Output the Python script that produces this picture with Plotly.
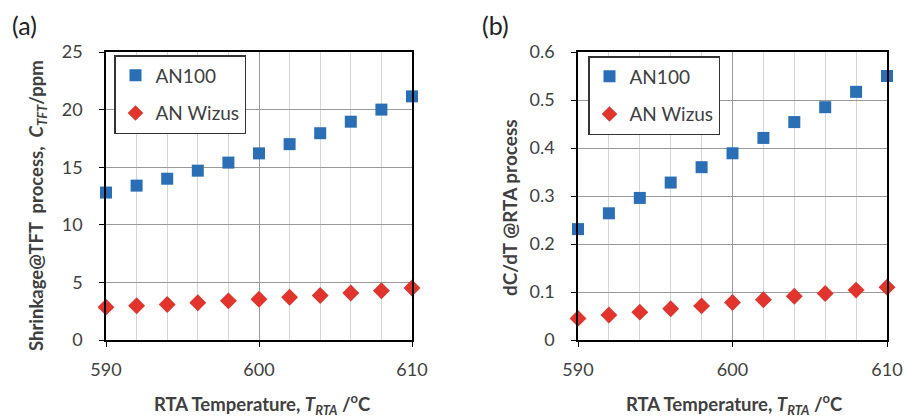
import plotly.graph_objects as go

temps = [590, 592, 594, 596, 598, 600, 602, 604, 606, 608, 610]
shrink_an100 = [12.8, 13.4, 14.0, 14.7, 15.4, 16.2, 17.0, 17.95, 18.95, 20.0, 21.15]
shrink_wizus = [2.85, 2.97, 3.08, 3.23, 3.4, 3.54, 3.71, 3.86, 4.08, 4.28, 4.51]
dcdt_an100 = [0.231, 0.264, 0.296, 0.328, 0.360, 0.389, 0.421, 0.454, 0.485, 0.517, 0.550]
dcdt_wizus = [0.045, 0.052, 0.058, 0.065, 0.071, 0.078, 0.084, 0.091, 0.097, 0.104, 0.110]
series_names = ["AN100", "AN Wizus"]
x_ticks = [590, 600, 610]
y1_ticks = [0, 5, 10, 15, 20, 25]
y2_ticks = [0, 0.1, 0.2, 0.3, 0.4, 0.5, 0.6]
y2_ticktext = ["0", "0.1", "0.2", "0.3", "0.4", "0.5", "0.6"]

BLUE = "#2A6EB5"
RED = "#E0342C"
FONT = "Lato, Open Sans, sans-serif"
TICKC = "#404040"

fig = go.Figure()
fig.add_trace(go.Scatter(x=temps, y=shrink_an100, mode="markers", name=series_names[0],
                         marker=dict(symbol="square", size=12, color=BLUE), cliponaxis=False,
                         xaxis="x", yaxis="y", legend="legend", legendgroup="a1"))
fig.add_trace(go.Scatter(x=temps, y=shrink_wizus, mode="markers", name=series_names[1],
                         marker=dict(symbol="diamond", size=13, color=RED), cliponaxis=False,
                         xaxis="x", yaxis="y", legend="legend", legendgroup="a2"))
fig.add_trace(go.Scatter(x=temps, y=dcdt_an100, mode="markers", name=series_names[0],
                         marker=dict(symbol="square", size=12, color=BLUE), cliponaxis=False,
                         xaxis="x2", yaxis="y2", legend="legend2", legendgroup="b1"))
fig.add_trace(go.Scatter(x=temps, y=dcdt_wizus, mode="markers", name=series_names[1],
                         marker=dict(symbol="diamond", size=13, color=RED), cliponaxis=False,
                         xaxis="x2", yaxis="y2", legend="legend2", legendgroup="b2"))

W, H = 904, 418
ydom = [(H - 340) / H, (H - 52) / H]

def xaxis(dom, anchor):
    return dict(domain=dom, anchor=anchor, range=[590, 610], tickvals=x_ticks, automargin=False,
                showgrid=True, gridcolor="#9a9a9a", gridwidth=1,
                minor=dict(dtick=2, tick0=590, showgrid=True, gridcolor="#d4d4d4", gridwidth=1),
                showline=True, linecolor="black", linewidth=1.5, mirror=True,
                ticks="outside", ticklen=5, tickcolor="black", ticklabelstandoff=8,
                tickfont=dict(size=18, color=TICKC, family=FONT), zeroline=False)

def yaxis(dom, anchor, rng, tv, tt):
    return dict(domain=dom, anchor=anchor, range=rng, tickvals=tv, ticktext=tt, automargin=False,
                showgrid=True, gridcolor="#9a9a9a", gridwidth=1,
                showline=True, linecolor="black", linewidth=1.5, mirror=True,
                ticks="outside", ticklen=5, tickcolor="black", ticklabelstandoff=13,
                tickfont=dict(size=18, color=TICKC, family=FONT), zeroline=False)

leg_common = dict(xanchor="left", yanchor="top", bgcolor="white", bordercolor="#333333",
                  borderwidth=1.5, font=dict(size=19, color=TICKC, family=FONT),
                  tracegroupgap=10, itemsizing="constant")

fig.update_layout(
    width=W, height=H, margin=dict(l=0, r=0, t=0, b=0, autoexpand=False),
    paper_bgcolor="white", plot_bgcolor="white",
    font=dict(family=FONT, color=TICKC),
    xaxis=xaxis([106 / W, 412 / W], "y"),
    yaxis=yaxis(ydom, "x", [0, 25], y1_ticks, [str(v) for v in y1_ticks]),
    xaxis2=xaxis([578 / W, 887 / W], "y2"),
    yaxis2=yaxis(ydom, "x2", [0, 0.6], y2_ticks, y2_ticktext),
    legend=dict(x=114 / W, y=(H - 55) / H, **leg_common),
    legend2=dict(x=588 / W, y=(H - 56) / H, **leg_common),
    showlegend=True,
)

NB = "\u00a0"
xtitle = "RTA Temperature, <i>T<sub>RTA</sub></i>" + NB + "/<sup>o</sup>C"
ytitle_a = "Shrinkage@TFT" + NB * 2 + "process," + NB * 2 + "<i>C<sub>TFT</sub></i>/ppm"
annots = [
    dict(text="(a)", x=10 / W, y=(H - 25) / H, xanchor="left", yanchor="middle",
         font=dict(size=25, color="#222222")),
    dict(text="(b)", x=480 / W, y=(H - 25) / H, xanchor="left", yanchor="middle",
         font=dict(size=25, color="#222222")),
    dict(text="<b>" + xtitle + "</b>", x=262 / W, y=(H - 404) / H, xanchor="center", yanchor="middle",
         font=dict(size=18.5, color=TICKC)),
    dict(text="<b>" + xtitle + "</b>", x=734 / W, y=(H - 404) / H, xanchor="center", yanchor="middle",
         font=dict(size=18.5, color=TICKC)),
    dict(text="<b>" + ytitle_a + "</b>", x=37 / W, y=(H - 206) / H,
         xanchor="center", yanchor="middle", textangle=-90, font=dict(size=18.5, color=TICKC)),
    dict(text="<b>dC/dT @RTA process</b>", x=509 / W, y=(H - 208) / H,
         xanchor="center", yanchor="middle", textangle=-90, font=dict(size=19, color=TICKC)),
]
for a in annots:
    a.update(xref="paper", yref="paper", showarrow=False)
fig.update_layout(annotations=annots)

fig.write_html("out.html")
